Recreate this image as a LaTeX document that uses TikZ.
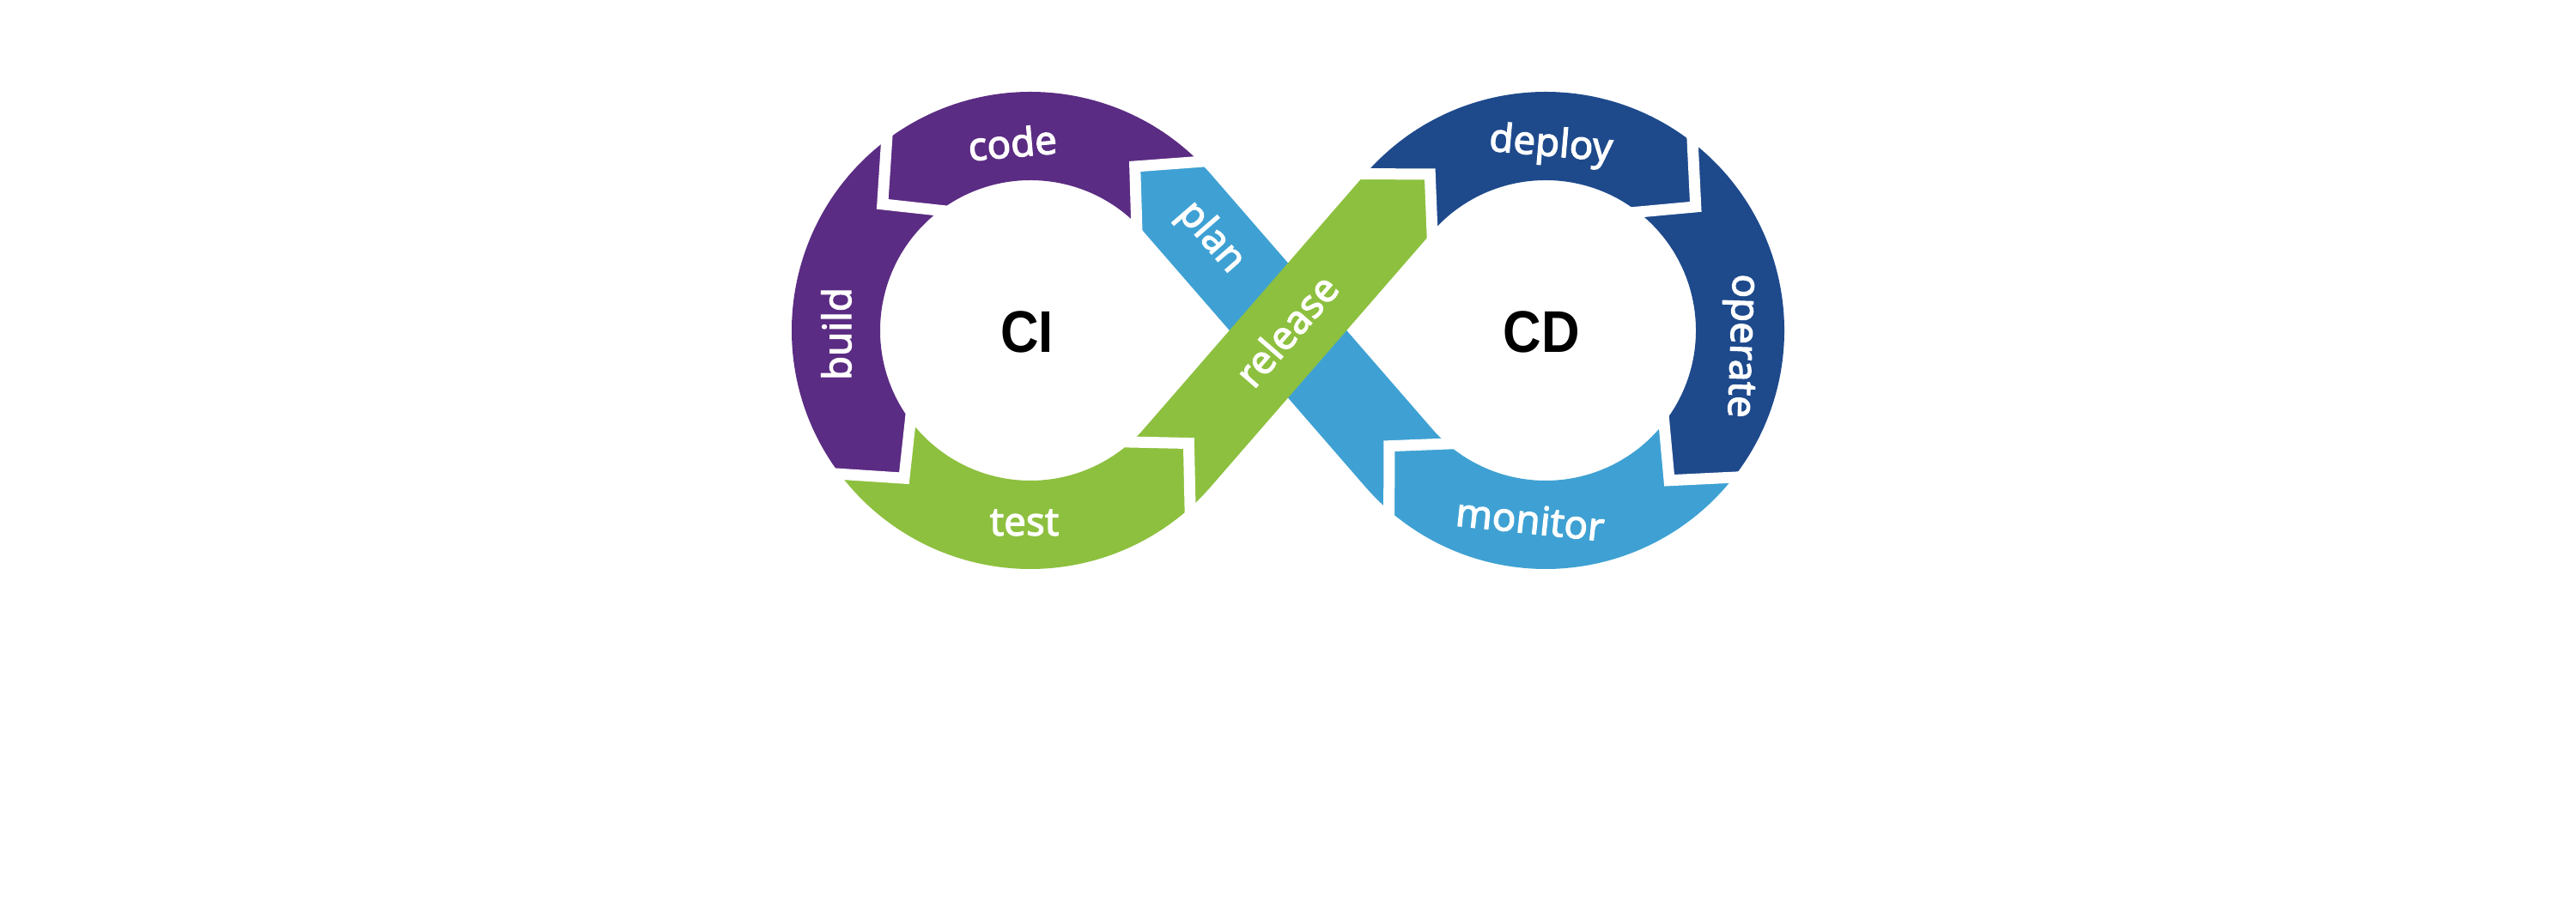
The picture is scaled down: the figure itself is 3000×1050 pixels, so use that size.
\documentclass[tikz,border=0pt]{standalone}
\usepackage{graphicx}
\usepackage{fontspec}
\setmainfont{Noto Sans}
\newfontfamily\lblfont{Noto Sans}[FakeBold=2.5]
\newfontfamily\cifont{Liberation Sans}
\usetikzlibrary{calc}
\definecolor{cpurple}{HTML}{5B2C83}
\definecolor{cgreen}{HTML}{8DC03F}
\definecolor{clight}{HTML}{3FA1D3}
\definecolor{cdark}{HTML}{1E4A8C}
\def\Ro{27.8mm}
\def\Ri{17.5mm}
\def\Rm{22.65mm}
\def\dl{12.5}
% segment of the left loop, flowing counter-clockwise: colour, start angle, end angle
\newcommand\LoopSegL[3]{%
  \fill[#1] ($(L)+(#2:\Ro)$) arc[start angle=#2,end angle=#3,radius=\Ro]
    -- ($(L)+({#3+\dl}:\Rm)$) -- ($(L)+(#3:\Ri)$)
    arc[start angle=#3,end angle=#2,radius=\Ri]
    -- ($(L)+({#2+\dl}:\Rm)$) -- cycle;}
% segment of the right loop, flowing clockwise
\newcommand\LoopSegR[3]{%
  \fill[#1] ($(R)+(#2:\Ro)$) arc[start angle=#2,end angle=#3,radius=\Ro]
    -- ($(R)+({#3-\dl}:\Rm)$) -- ($(R)+(#3:\Ri)$)
    arc[start angle=#3,end angle=#2,radius=\Ri]
    -- ($(R)+({#2-\dl}:\Rm)$) -- cycle;}
% white chevron gaps
\newcommand\GapL[1]{%
  \coordinate (gt) at ($(L)+({#1+\dl}:\Rm)$);
  \coordinate (go) at ($(L)+(#1:\Ro)$);
  \coordinate (gi) at ($(L)+(#1:\Ri)$);
  \draw[gapline] ($(gt)!1.2!(go)$) -- (gt) -- ($(gt)!1.2!(gi)$);}
\newcommand\GapR[1]{%
  \coordinate (gt) at ($(R)+({#1-\dl}:\Rm)$);
  \coordinate (go) at ($(R)+(#1:\Ro)$);
  \coordinate (gi) at ($(R)+(#1:\Ri)$);
  \draw[gapline] ($(gt)!1.2!(go)$) -- (gt) -- ($(gt)!1.2!(gi)$);}
\begin{document}
\begin{tikzpicture}[x=0.1mm,y=0.1mm,
  lbl/.style={text=white,font=\lblfont\fontsize{13}{15}\selectfont,inner sep=0pt},
  big/.style={text=black,font=\cifont\bfseries\fontsize{19.5}{22}\selectfont,inner sep=0pt},
  gapline/.style={draw=white,line width=1.3mm,line join=miter,miter limit=10}]
\useasboundingbox (0,0) rectangle (3000,1050);
\coordinate (L) at (1200,665);
\coordinate (R) at (1800,665);
\coordinate (M) at (1500,665);
% plan band (under release)
\fill[clight] ($(R)+(229:\Ri)$) arc[start angle=229,end angle=221,radius=\Ri]
  -- ($(L)+(41:\Ro)$) arc[start angle=41,end angle=45,radius=\Ro]
  -- ($(L)+({45+\dl}:\Rm)$) -- ($(L)+(45:\Ri)$)
  arc[start angle=45,end angle=41,radius=\Ri]
  -- ($(R)+(221:\Ro)$) arc[start angle=221,end angle=229,radius=\Ro]
  -- ($(R)+({229-\dl}:\Rm)$) -- cycle;
% loop segments
\LoopSegL{cpurple}{45}{127}
\LoopSegL{cpurple}{127}{217}
\LoopSegL{cgreen}{217}{312}
\LoopSegR{cdark}{139}{52}
\LoopSegR{cdark}{52}{-38}
\LoopSegR{clight}{-38}{-131}
% release band (on top)
\fill[cgreen] ($(L)+(-48:\Ro)$) arc[start angle=-48,end angle=-41,radius=\Ro]
  -- ($(R)+(139:\Ri)$) -- ($(R)+({139-\dl}:\Rm)$) -- ($(R)+(139:\Ro)$)
  -- ($(L)+(-41:\Ri)$) arc[start angle=-41,end angle=-48,radius=\Ri]
  -- ($(L)+({-48+\dl}:\Rm)$) -- cycle;
% gaps
\GapL{45}\GapL{127}\GapL{217}\GapL{312}
\GapR{139}\GapR{52}\GapR{-38}\GapR{229}
% labels
\node[lbl,rotate=5] (code) at (1179,884) {code};
\node[lbl,rotate=90] (build) at (974,661) {build};
\node[lbl] (test) at (1193,441) {test};
\node[lbl,rotate=-5] (deploy) at (1806,880) {deploy};
\node[lbl,rotate=-92] (operate) at (2025,647) {operate};
\node[lbl,rotate=-6] (monitor) at (1782,445) {monitor};
\node[lbl,rotate=-49] (plan) at (1410,773) {plan};
\node[lbl,rotate=49] (release) at (1498,665) {release};
\node[big] (ci) at (1196,663) {\scalebox{0.9}[1]{CI}};
\node[big] (cd) at (1795,663) {\scalebox{0.9}[1]{CD}};
\end{tikzpicture}
\end{document}
